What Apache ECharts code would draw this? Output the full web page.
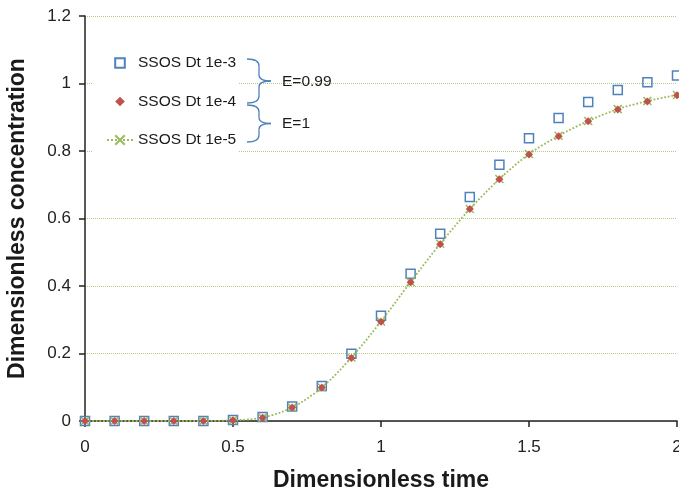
<!DOCTYPE html>
<html>
<head>
<meta charset="utf-8">
<script src="https://cdn.jsdelivr.net/npm/echarts@6/dist/echarts.min.js"></script>
<style>html,body{margin:0;padding:0;background:#fff}#c{width:679px;height:493px}</style>
</head>
<body>
<div id="c"></div>
<script>
var times = [0, 0.1, 0.2, 0.3, 0.4, 0.5, 0.6, 0.7, 0.8, 0.9, 1.0, 1.1, 1.2, 1.3, 1.4, 1.5, 1.6, 1.7, 1.8, 1.9, 2.0];
var dt1e3 = [0, 0, 0, 0, 0, 0.003, 0.012, 0.043, 0.104, 0.199, 0.312, 0.436, 0.555, 0.664, 0.759, 0.838, 0.898, 0.945, 0.981, 1.004, 1.024];
var dt1e4 = [0, 0, 0, 0, 0, 0.002, 0.010, 0.040, 0.099, 0.187, 0.294, 0.411, 0.524, 0.628, 0.716, 0.790, 0.844, 0.888, 0.923, 0.947, 0.965];
var dt1e5 = [0, 0, 0, 0, 0, 0.002, 0.010, 0.040, 0.099, 0.188, 0.295, 0.412, 0.525, 0.628, 0.717, 0.791, 0.845, 0.889, 0.924, 0.948, 0.966];
var seriesNames = ['SSOS Dt 1e-3', 'SSOS Dt 1e-4', 'SSOS Dt 1e-5'];
var braceLabels = ['E=0.99', 'E=1'];
var xTitle = 'Dimensionless time';
var yTitle = 'Dimensionless concentration';

function pairs(ys) { return times.map(function (t, i) { return [t, ys[i]]; }); }

var FONT = '"Liberation Sans", Arial, Helvetica, sans-serif';
var BRACE_STYLE = { fill: 'none', stroke: '#4f81bd', lineWidth: 1.3 };
function brace(x0, yTop, yBot) {
  var xm = x0 + 12, xp = x0 + 24, ym = (yTop + yBot) / 2;
  var parts = [
    { type: 'bezierCurve', shape: { x1: x0, y1: yTop, x2: xm, y2: yTop + 7, cpx1: xm, cpy1: yTop } },
    { type: 'line', shape: { x1: xm, y1: yTop + 7, x2: xm, y2: ym - 6 } },
    { type: 'bezierCurve', shape: { x1: xm, y1: ym - 6, x2: xp, y2: ym, cpx1: xm, cpy1: ym } },
    { type: 'bezierCurve', shape: { x1: xp, y1: ym, x2: xm, y2: ym + 6, cpx1: xm, cpy1: ym } },
    { type: 'line', shape: { x1: xm, y1: ym + 6, x2: xm, y2: yBot - 7 } },
    { type: 'bezierCurve', shape: { x1: xm, y1: yBot - 7, x2: x0, y2: yBot, cpx1: xm, cpy1: yBot } }
  ];
  parts.forEach(function (p) { p.style = BRACE_STYLE; p.z = 100; });
  return parts;
}

var graphics = [].concat(
  brace(247, 59, 103),
  brace(247, 105, 142),
  [
    { type: 'text', z: 100, left: 282, top: 74, style: { text: braceLabels[0], fontSize: 15.5, fill: '#1a1a1a', fontFamily: FONT } },
    { type: 'text', z: 100, left: 282, top: 116, style: { text: braceLabels[1], fontSize: 15.5, fill: '#1a1a1a', fontFamily: FONT } }
  ]
);

var chart = echarts.init(document.getElementById('c'));
chart.setOption({
  animation: false,
  backgroundColor: '#fff',
  textStyle: { fontFamily: FONT },
  grid: { left: 85, right: 2, top: 16, bottom: 72, containLabel: false, outerBoundsMode: 'none' },
  xAxis: {
    type: 'value', min: 0, max: 2, interval: 0.5,
    name: xTitle, nameLocation: 'middle', nameGap: 48,
    nameTextStyle: { fontSize: 23, fontWeight: 'bold', color: '#1a1a1a', fontFamily: FONT },
    axisLine: { show: true, onZero: false, lineStyle: { color: '#222', width: 1.5 } },
    axisTick: { show: true, inside: false, length: 6, lineStyle: { color: '#222', width: 1.5 } },
    axisLabel: { fontSize: 17, color: '#222', margin: 18, fontFamily: FONT },
    splitLine: { show: false }
  },
  yAxis: {
    type: 'value', min: 0, max: 1.2, interval: 0.2,
    name: yTitle, nameLocation: 'middle', nameGap: 56, nameRotate: 90,
    nameTextStyle: { fontSize: 23, fontWeight: 'bold', color: '#1a1a1a', fontFamily: FONT },
    axisLine: { show: true, lineStyle: { color: '#222', width: 1.5 } },
    axisTick: { show: true, inside: false, length: 6, lineStyle: { color: '#222', width: 1.5 } },
    axisLabel: { fontSize: 17, color: '#222', margin: 14, fontFamily: FONT },
    splitLine: { show: true, lineStyle: { color: '#b3cf7c', type: 'dotted', width: 1 } }
  },
  legend: {
    orient: 'vertical', left: 92, top: 46,
    padding: [9, 2, 8, 14],
    backgroundColor: '#fff',
    itemWidth: 26, itemHeight: 12, itemGap: 22.5,
    textStyle: { fontSize: 15.5, color: '#1a1a1a', fontFamily: FONT },
    data: seriesNames
  },
  series: [
    {
      name: seriesNames[0], type: 'line', data: pairs(dt1e3),
      symbol: 'rect', symbolSize: 9, z: 2, showSymbol: true,
      lineStyle: { width: 0, opacity: 0 },
      itemStyle: { color: 'rgba(255,255,255,0)', borderColor: '#4f81bd', borderWidth: 1.5 }
    },
    {
      name: seriesNames[1], type: 'line', data: pairs(dt1e4),
      symbol: 'diamond', symbolSize: 8, z: 4, showSymbol: true,
      lineStyle: { width: 0, opacity: 0 },
      itemStyle: { color: '#c0504d' }
    },
    {
      name: seriesNames[2], type: 'line', data: pairs(dt1e5), smooth: 0.3,
      symbol: 'path://M0,0L10,10M10,0L0,10', symbolSize: 8, showSymbol: true, z: 3,
      lineStyle: { color: '#9bbb59', type: 'dotted', width: 1.8 },
      itemStyle: { color: 'rgba(0,0,0,0)', borderColor: '#9bbb59', borderWidth: 1.5 }
    }
  ],
  graphic: graphics
});
</script>
</body>
</html>
